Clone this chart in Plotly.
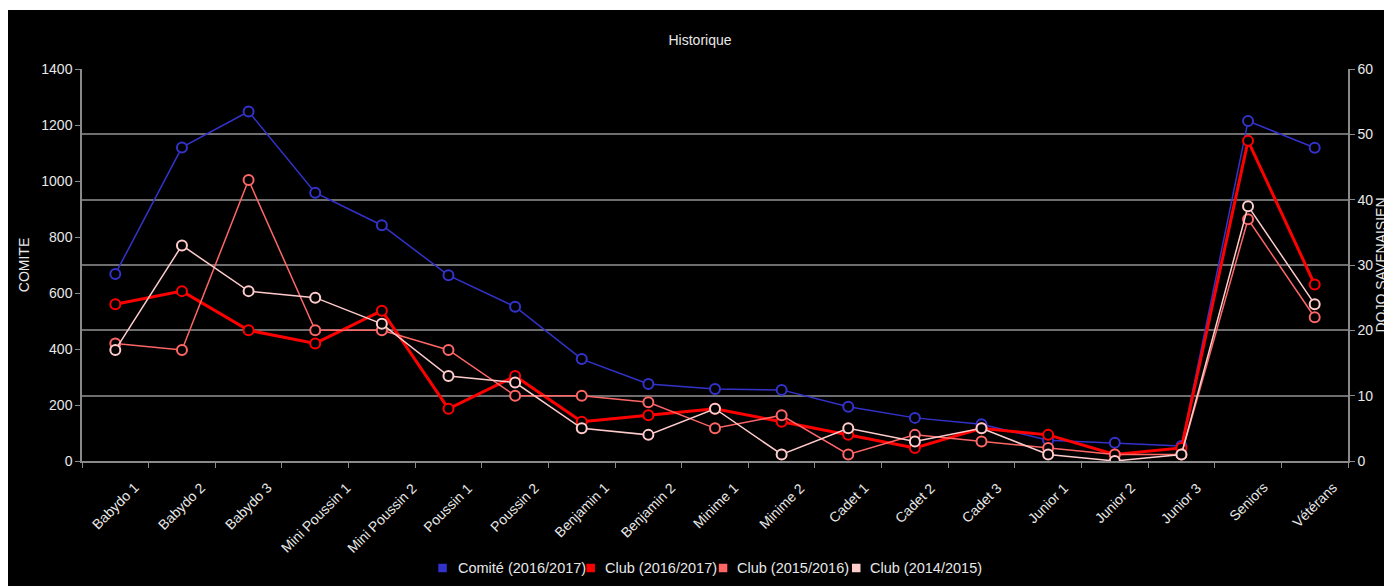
import plotly.graph_objects as go

categories = ["Babydo 1", "Babydo 2", "Babydo 3", "Mini Poussin 1", "Mini Poussin 2",
              "Poussin 1", "Poussin 2", "Benjamin 1", "Benjamin 2", "Minime 1", "Minime 2",
              "Cadet 1", "Cadet 2", "Cadet 3", "Junior 1", "Junior 2", "Junior 3",
              "Seniors", "Vétérans"]

comite_2016_2017 = [668, 1120, 1248, 958, 842, 663, 551, 364, 275, 257, 254, 194, 154, 131, 74, 65, 54, 1214, 1119]
club_2016_2017 = [24, 26, 20, 18, 23, 8, 13, 6, 7, 8, 6, 4, 2, 5, 4, 1, 2, 49, 27]
club_2015_2016 = [18, 17, 43, 20, 20, 17, 10, 10, 9, 5, 7, 1, 4, 3, 2, 1, 1, 37, 22]
club_2014_2015 = [17, 33, 26, 25, 21, 13, 12, 5, 4, 8, 1, 5, 3, 5, 1, 0, 1, 39, 24]

series_names = ["Comité (2016/2017)", "Club (2016/2017)", "Club (2015/2016)", "Club (2014/2015)"]
series_values = [comite_2016_2017, club_2016_2017, club_2015_2016, club_2014_2015]
series_colors = ["#3333cc", "#ff0000", "#ff6666", "#ffcccc"]
series_widths = [1.5, 3, 1.5, 1.5]
series_axes = ["y", "y2", "y2", "y2"]

FONT = "Liberation Sans, Arial, sans-serif"
TXT = "#e8e8e8"
AX = "#8a8a8a"
GRID = "#6e6e6e"
FS = 14

# figure is drawn at page offset (8, 8) by the body margin
W, H = 1384, 578
ML, MR, MT, MB = 74, 44, 61, 125
PW, PH = W - ML - MR, H - MT - MB


def px_x(fx):
    return (fx - ML) / PW


def px_y(fy):
    return (H - MB - fy) / PH


fig = go.Figure()
for name, vals, col, lw, ax in zip(series_names, series_values, series_colors, series_widths, series_axes):
    fig.add_trace(go.Scatter(
        x=categories, y=vals, name=name, yaxis=ax, mode="lines+markers",
        line=dict(color=col, width=lw),
        marker=dict(symbol="circle", size=10, color="black", line=dict(color=col, width=2)),
        showlegend=False,
    ))

shapes = [dict(type="rect", xref="paper", yref="paper",
               x0=px_x(0), x1=px_x(W), y0=px_y(H), y1=px_y(2),
               fillcolor="black", line=dict(width=0), layer="below")]

annotations = []
# category labels, rotated and centred under each category
for c in categories:
    annotations.append(dict(x=c, xref="x", y=px_y(H - MB + 16), yref="paper",
                            text=c, showarrow=False, textangle=-45,
                            xanchor="center", yanchor="top",
                            font=dict(family=FONT, size=FS, color=TXT)))

# legend (square keys + labels)
leg_square_x = [430.3, 578.4, 710.8, 844.0]
leg_text_x = [447.5, 594.8, 727.2, 859.7]
leg_y = 560
for name, col, sx, tx in zip(series_names, series_colors, leg_square_x, leg_text_x):
    shapes.append(dict(type="rect", xref="paper", yref="paper",
                       x0=px_x(sx), x1=px_x(sx + 8.5), y0=px_y(leg_y + 4.25), y1=px_y(leg_y - 4.25),
                       fillcolor=col, line=dict(width=0)))
    annotations.append(dict(x=px_x(tx), xref="paper", y=px_y(leg_y), yref="paper",
                            text=name, showarrow=False, xanchor="left", yanchor="middle",
                            font=dict(family=FONT, size=14.5, color=TXT)))

fig.update_layout(
    width=W, height=H,
    margin=dict(l=ML, r=MR, t=MT, b=MB, autoexpand=False),
    paper_bgcolor="white", plot_bgcolor="black",
    font=dict(family=FONT, size=FS, color=TXT),
    title=dict(text="Historique", x=0.5, xanchor="center", y=1 - 32 / H, yanchor="middle",
               font=dict(family=FONT, size=FS, color=TXT)),
    xaxis=dict(type="category", range=[-0.5, len(categories) - 0.5], autorange=False,
               ticks="outside", tickson="boundaries", showticklabels=False,
               ticklen=5, tickcolor=AX, showline=True, linecolor=AX, linewidth=1.5,
               showgrid=False, zeroline=False, automargin=False),
    yaxis=dict(range=[0, 1400], dtick=200, ticks="outside", ticklen=5, tickcolor=AX,
               showline=True, linecolor=AX, linewidth=1.5, showgrid=False, zeroline=False,
               title=dict(text="COMITE", font=dict(size=FS, color=TXT), standoff=8),
               tickfont=dict(size=FS, color=TXT), automargin=False),
    yaxis2=dict(range=[0, 60], dtick=10, overlaying="y", side="right", ticks="outside",
                ticklen=5, tickcolor=AX, showline=True, linecolor=AX, linewidth=1.5,
                showgrid=True, gridcolor=GRID, gridwidth=1.5, zeroline=False,
                title=dict(text="DOJO SAVENAISIEN", font=dict(size=FS, color=TXT), standoff=0),
                tickfont=dict(size=FS, color=TXT), automargin=False),
    shapes=shapes,
    annotations=annotations,
    showlegend=False,
)

fig.write_html("out.html")
